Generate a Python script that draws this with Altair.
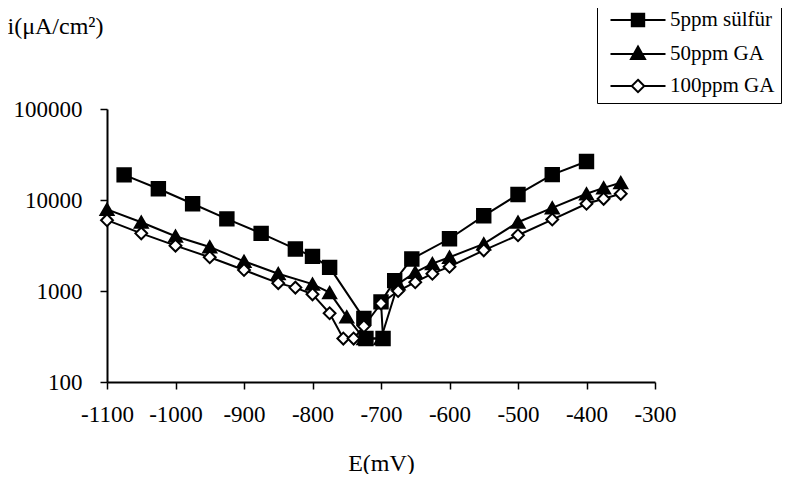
import altair as alt
import pandas as pd

series_names = ["5ppm sülfür", "50ppm GA", "100ppm GA"]

# 5ppm sülfür (filled squares)
sq_E = [-1075, -1025, -975, -925, -875, -825, -800, -775, -725, -722, -697, -700, -680, -655, -600, -550, -500, -450, -400]
sq_i = [18900, 13300, 9100, 6200, 4300, 2900, 2400, 1820, 500, 300, 300, 760, 1300, 2250, 3750, 6700, 11500, 19000, 26500]

# 50ppm GA (filled triangles)
tri_E = [-1100, -1050, -1000, -950, -900, -850, -800, -775, -750, -725, -700, -675, -650, -625, -600, -550, -500, -450, -400, -375, -350]
tri_i = [7900, 5700, 4000, 3050, 2120, 1550, 1190, 960, 520, 300, 300, 1200, 1600, 2000, 2350, 3300, 5700, 8200, 11700, 13600, 15500]

# 100ppm GA (open diamonds)
dia_E = [-1100, -1050, -1000, -950, -900, -850, -825, -800, -775, -755, -740, -725, -700, -675, -650, -625, -600, -550, -500, -450, -400, -375, -350]
dia_i = [6000, 4300, 3150, 2350, 1700, 1220, 1090, 920, 570, 300, 300, 410, 730, 1000, 1250, 1550, 1850, 2800, 4100, 6100, 9100, 10300, 11700]

x_ticks = [-1100, -1000, -900, -800, -700, -600, -500, -400, -300]
y_ticks = [100, 1000, 10000, 100000]

# marker styling per series
marker_shape = {"5ppm sülfür": "square", "50ppm GA": "triangle-up", "100ppm GA": "diamond"}
marker_fill = {"5ppm sülfür": "black", "50ppm GA": "black", "100ppm GA": "white"}
marker_size = {"5ppm sülfür": 180, "50ppm GA": 170, "100ppm GA": 140}

rows = []
for name, xs, ys in zip(series_names, [sq_E, tri_E, dia_E], [sq_i, tri_i, dia_i]):
    for k, (xv, yv) in enumerate(zip(xs, ys)):
        rows.append({"series": name, "E": xv, "i": yv, "idx": k,
                     "shp": marker_shape[name], "fil": marker_fill[name], "sz": marker_size[name]})
df = pd.DataFrame(rows)

FONT = "Liberation Serif"

x_enc = alt.X(
    "E:Q",
    scale=alt.Scale(domain=[-1100, -300], nice=False, zero=False),
    axis=alt.Axis(values=x_ticks, title="E(mV)", labelPadding=14, titleY=88,
                  titleBaseline="alphabetic", labelExpr="'' + datum.value",
                  labelOverlap=False, labelFlush=False),
)
y_enc = alt.Y(
    "i:Q",
    scale=alt.Scale(type="log", domain=[100, 100000], nice=False),
    axis=alt.Axis(values=y_ticks, labelExpr="'' + datum.value", title="i(μA/cm²)", titleAngle=0,
                  titleAlign="left", titleBaseline="alphabetic", titleX=-100, titleY=-76,
                  labelPadding=18, labelOverlap=False, labelFlush=False),
)

dom = series_names
lines = alt.Chart(df).mark_line(color="black", strokeWidth=2).encode(
    x=x_enc, y=y_enc, detail="series:N", order="idx:Q"
)

points = alt.Chart(df).mark_point(filled=True, stroke="black", strokeWidth=2, opacity=1).encode(
    x=x_enc, y=y_enc,
    shape=alt.Shape("shp:N", scale=None),
    fill=alt.Fill("fil:N", scale=None),
    size=alt.Size("sz:Q", scale=None),
)

sym_paths = [
    "M-2.75,0L2.75,0M-0.62,-0.62L0.62,-0.62L0.62,0.62L-0.62,0.62Z",
    "M-2.75,0L2.75,0M0,-0.75L0.7,0.5L-0.7,0.5Z",
    "M-2.75,0L-0.62,0M0.62,0L2.75,0M0,-0.62L0.62,0L0,0.62L-0.62,0Z",
]

leg = alt.Legend(
    title=None, orient="none", legendX=490, legendY=-106, padding=6,
    strokeColor="black", fillColor="white",
    symbolSize=400, symbolStrokeWidth=2, symbolStrokeColor="black", symbolOpacity=1,
    symbolOffset=24, labelOffset=21, labelFont=FONT, labelFontSize=21, labelColor="black",
    rowPadding=11, labelLimit=400,
)

legend_layer = alt.Chart(df).mark_point(filled=True, opacity=0, stroke="black", strokeWidth=2).encode(
    x=x_enc, y=y_enc,
    shape=alt.Shape("series:N", scale=alt.Scale(domain=dom, range=sym_paths), legend=leg),
    fill=alt.Fill("series:N", scale=alt.Scale(domain=dom, range=["black", "black", "white"]), legend=leg),
)

chart = (
    alt.layer(lines, points, legend_layer)
    .properties(
        width=548, height=273,
        autosize=alt.AutoSizeParams(type="none"),
        padding={"left": 99, "top": 101, "right": 147, "bottom": 92},
    )
    .configure(font=FONT)
    .configure_view(stroke=None)
    .configure_axis(
        grid=False, domainColor="black", domainWidth=2, tickColor="black", tickSize=7,
        tickWidth=1.5, labelFont=FONT, labelFontSize=23, labelColor="black",
        titleFont=FONT, titleFontSize=24, titleFontWeight="normal", titleColor="black",
    )
    .configure_legend(labelFont=FONT)
)

chart.save("out.html", embed_options={"renderer": "svg", "actions": False})
